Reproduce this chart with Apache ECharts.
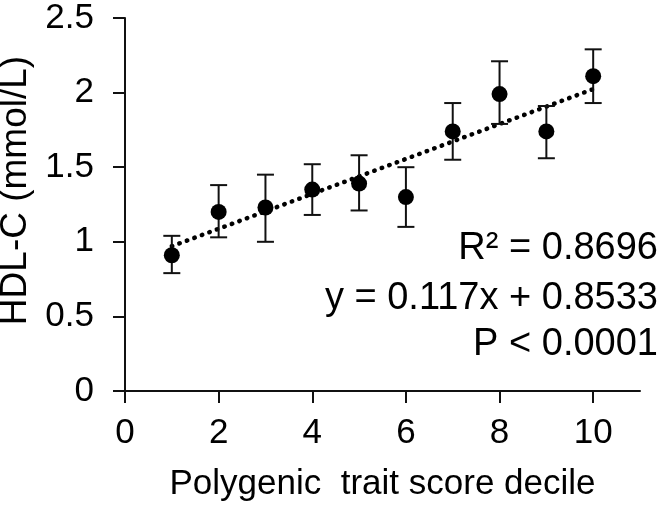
<!DOCTYPE html>
<html>
<head>
<meta charset="utf-8">
<script src="https://cdn.jsdelivr.net/npm/echarts@6/dist/echarts.min.js"></script>
<style>
html,body{margin:0;padding:0;background:#fff;}
#chart{width:667px;height:508px;}
</style>
</head>
<body>
<div id="chart"></div>
<script>
const deciles = [1, 2, 3, 4, 5, 6, 7, 8, 9, 10];
const hdlMean = [0.91, 1.20, 1.23, 1.35, 1.39, 1.30, 1.74, 1.99, 1.74, 2.11];
const errLow  = [0.79, 1.03, 1.00, 1.18, 1.21, 1.10, 1.55, 1.79, 1.56, 1.93];
const errHigh = [1.04, 1.38, 1.45, 1.52, 1.58, 1.50, 1.93, 2.21, 1.91, 2.29];
const trendX = [1, 10];
const trendY = [0.9703, 2.0233];
const xTicks = [0, 2, 4, 6, 8, 10];
const yTicks = [0, 0.5, 1, 1.5, 2, 2.5];
const annotations = ['R² = 0.8696', 'y = 0.117x + 0.8533', 'P < 0.0001'];

const FONT = '"Liberation Sans", Arial, sans-serif';
const INK = '#000';

const chart = echarts.init(document.getElementById('chart'), null, {renderer: 'canvas'});

const pointData = deciles.map((d, i) => [d, hdlMean[i]]);
const errData = deciles.map((d, i) => [d, errLow[i], errHigh[i]]);
const trendData = trendX.map((x, i) => [x, trendY[i]]);

chart.setOption({
  backgroundColor: '#fff',
  animation: false,
  grid: {left: 125, right: 27, top: 18, bottom: 117, containLabel: false, outerBoundsMode: 'none'},
  xAxis: {
    type: 'value', min: 0, max: 11, interval: 2,
    name: 'Polygenic  trait score decile',
    nameLocation: 'middle', nameGap: 76,
    nameTextStyle: {fontFamily: FONT, fontSize: 35, color: INK},
    axisLine: {show: true, onZero: false, lineStyle: {color: '#111', width: 2}},
    axisTick: {show: true, inside: false, length: 12, lineStyle: {color: '#111', width: 2}, customValues: xTicks},
    axisLabel: {fontFamily: FONT, fontSize: 35, color: INK, margin: 25, customValues: xTicks},
    splitLine: {show: false}
  },
  yAxis: {
    type: 'value', min: 0, max: 2.5, interval: 0.5,
    name: 'HDL-C (mmol/L)',
    nameLocation: 'middle', nameGap: 85, nameRotate: 90,
    nameTextStyle: {fontFamily: FONT, fontSize: 37, color: INK, padding: [0, 0, 0, 28]},
    axisLine: {show: true, lineStyle: {color: '#111', width: 2}},
    axisTick: {show: true, inside: false, length: 12, lineStyle: {color: '#111', width: 2}, customValues: yTicks},
    axisLabel: {fontFamily: FONT, fontSize: 35, color: INK, margin: 31, customValues: yTicks,
      formatter: v => String(v)},
    splitLine: {show: false}
  },
  series: [
    {
      type: 'line',
      data: trendData,
      symbol: 'none',
      lineStyle: {color: INK, width: 4.5, type: [0.5, 7.5], cap: 'round'},
      z: 2
    },
    {
      type: 'custom',
      data: errData,
      renderItem: function (params, api) {
        const x = api.value(0);
        const lo = api.coord([x, api.value(1)]);
        const hi = api.coord([x, api.value(2)]);
        const hw = 8.5;
        const style = {stroke: '#111', lineWidth: 2, fill: null};
        return {
          type: 'group',
          children: [
            {type: 'line', shape: {x1: lo[0], y1: lo[1], x2: hi[0], y2: hi[1]}, style: style},
            {type: 'line', shape: {x1: lo[0] - hw, y1: lo[1], x2: lo[0] + hw, y2: lo[1]}, style: style},
            {type: 'line', shape: {x1: hi[0] - hw, y1: hi[1], x2: hi[0] + hw, y2: hi[1]}, style: style}
          ]
        };
      },
      z: 3
    },
    {
      type: 'scatter',
      data: pointData,
      symbol: 'circle',
      symbolSize: 16,
      itemStyle: {color: INK, opacity: 1},
      z: 4
    }
  ],
  graphic: [
    {type: 'text', right: 9, top: 230, style: {text: annotations[0], font: '38px ' + FONT, fill: INK, textAlign: 'right'}},
    {type: 'text', right: 9, top: 280, style: {text: annotations[1], font: '38px ' + FONT, fill: INK, textAlign: 'right'}},
    {type: 'text', right: 9, top: 326, style: {text: annotations[2], font: '38px ' + FONT, fill: INK, textAlign: 'right'}}
  ]
});
</script>
</body>
</html>
